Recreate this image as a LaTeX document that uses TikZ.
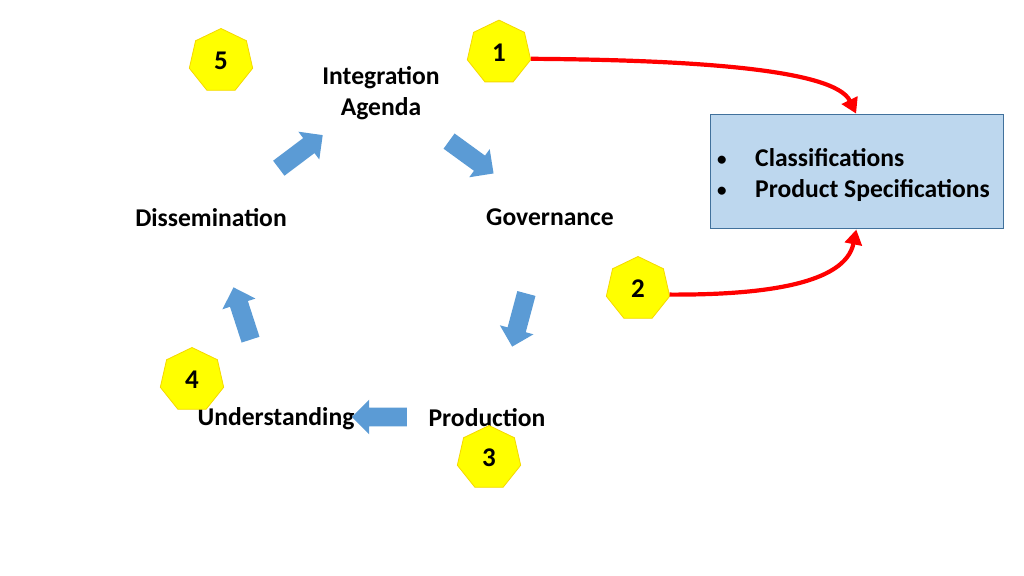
\documentclass[tikz,border=0pt]{standalone}
\usepackage{fontspec}
\setmainfont{Carlito}
\usepackage{tikz}
\usetikzlibrary{positioning, calc, shapes.geometric, shapes.arrows, arrows.meta}

\definecolor{stepyellow}{HTML}{FFFF00}
\definecolor{stepedge}{HTML}{F5D800}
\definecolor{flowblue}{HTML}{5B9BD5}
\definecolor{boxfill}{HTML}{BDD7EE}
\definecolor{boxedge}{HTML}{41719C}
\definecolor{linkred}{HTML}{FF0000}

\newcommand{\itembullet}{\makebox[38pt][l]{\raisebox{1pt}{\fontsize{19}{19}\selectfont\textbullet}}}

\begin{document}
\begin{tikzpicture}[x=1pt, y=-1pt, thick]
        % Define block styles
        \tikzstyle{stage} = [font=\fontsize{25.6}{31}\selectfont\bfseries, align=center, inner sep=0pt, text depth=0pt]
        \tikzstyle{badge} = [regular polygon, regular polygon sides=7, minimum size=65pt, inner sep=0pt, fill=stepyellow, draw=stepedge, line width=0.8pt, font=\fontsize{27}{30}\selectfont\bfseries]
        \tikzstyle{flowarrow} = [single arrow, fill=flowblue, draw=none, inner xsep=0pt, inner ysep=9pt, single arrow head extend=8pt, minimum height=55pt]
        \tikzstyle{specbox} = [rectangle, draw=boxedge, fill=boxfill, line width=1pt, minimum width=293pt, minimum height=113pt]
        \tikzstyle{specitems} = [align=left, inner sep=0pt, font=\fontsize{25.6}{31}\selectfont\bfseries]
        \tikzstyle{link} = [draw=linkred, line width=4.2pt, -{Triangle[length=15pt, width=17pt]}]

        \useasboundingbox (0,0) rectangle (1024,575);

        % Place stage names
        \node [stage] (integ) at (381,91) {Integration\\Agenda};
        \node [stage] (gov) at (550,217) {Governance};
        \node [stage] (prod) at (487,417) {Production};
        \node [stage] (under) at (276,417) {Understanding};
        \node [stage] (dissem) at (211,217) {Dissemination};

        % Place numbered badges
        \node [badge] (b1) at (499,52.6) {1};
        \node [badge] (b2) at (638,289) {2};
        \node [badge] (b3) at (489,458) {3};
        \node [badge] (b4) at (192,380) {4};
        \node [badge] (b5) at (221,61) {5};

        % Place the cycle arrows
        \node [flowarrow, rotate=37] (f1) at (297,154.5) {};
        \node [flowarrow, rotate=-36] (f2) at (467.5,154.5) {};
        \node [flowarrow, rotate=255] (f3) at (520.5,315.5) {};
        \node [flowarrow, rotate=180] (f4) at (384,417) {};
        \node [flowarrow, rotate=108] (f5) at (243.5,318) {};

        % Place the outcome box
        \node [specbox] (spec) at (856.5,171.5) {};
        \node [specitems] (items) at ([xshift=-3pt, yshift=-4pt]spec.center) {\itembullet Classifications\\\itembullet Product Specifications};

        % Draw connections as arrows
        \draw [link, shorten >=1pt] (b1.-11) .. controls (700,60) and (835,70) .. (spec.north);
        \draw [link, shorten >=1pt] (b2.-10) .. controls (760,295) and (845,285) .. (spec.south);

    \end{tikzpicture}
\end{document}
